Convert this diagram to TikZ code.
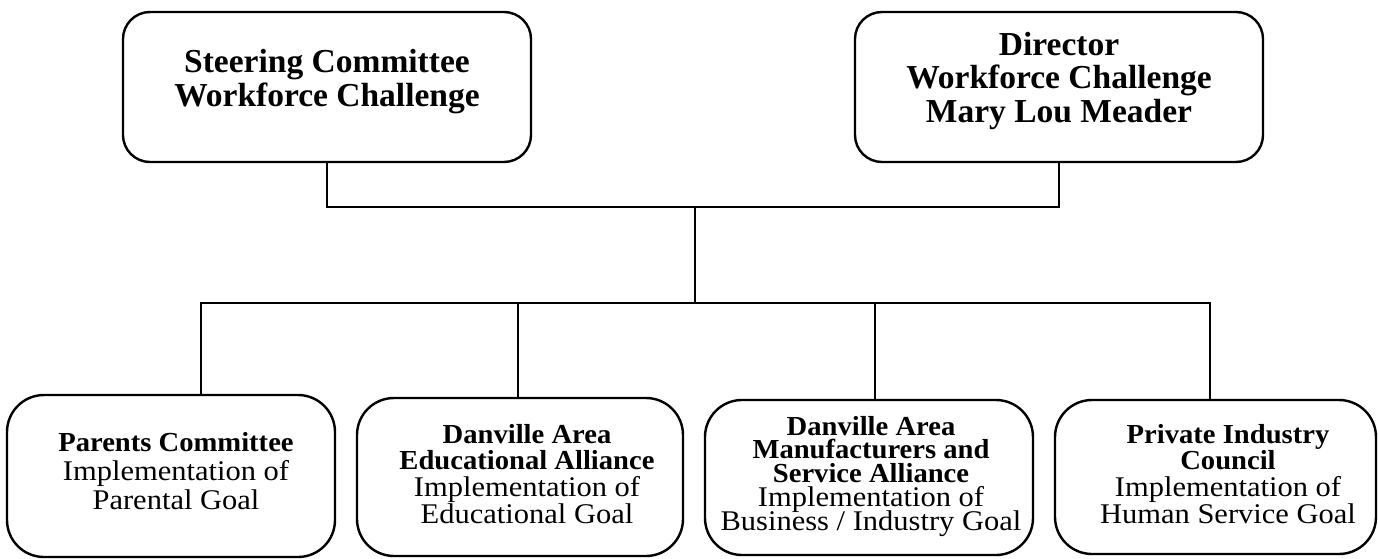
\documentclass[tikz,border=0pt]{standalone}
\usepackage{fontspec}
\setmainfont{Liberation Serif}
% slightly widened faces for the lower boxes
\newfontfamily\lowregfont{Liberation Serif}[FakeStretch=1.07]
\newfontfamily\lowboldfont{Liberation Serif}[FakeStretch=1.04]
% first-line strut so the top of each text block sits at a fixed height above its baseline
\newcommand\capstrut[1]{\rule{0pt}{#1}}
% bold heading lines inside the lower boxes
\newcommand\bl[1]{{\lowboldfont\fontsize{27.5pt}{24pt}\selectfont\bfseries #1}}
\begin{document}
\lineskiplimit=-100pt
\begin{tikzpicture}[x=1pt,y=-1pt,
  wire/.style={line width=2.7pt, line cap=rect},
  topbox/.style={draw, line width=2.4pt, rounded corners=27pt, inner sep=0pt, outer sep=0pt},
  lowbox/.style={draw, line width=2.4pt, rounded corners=37pt, inner sep=0pt, outer sep=0pt},
  toptext/.style={inner sep=0pt, align=center, anchor=north,
    font=\fontsize{33.5pt}{#1}\selectfont\bfseries},
  lowtext/.style={inner sep=0pt, align=center, anchor=north,
    font=\lowregfont\fontsize{28.5pt}{#1}\selectfont},
]
\useasboundingbox (0,0) rectangle (1378,559);

% upper tier
\node[topbox, minimum width=408pt, minimum height=150pt] (steer) at (327,87) {};
\node[topbox, minimum width=408pt, minimum height=150pt] (dir) at (1059,87) {};
\node[toptext=34pt] (steertext) at (327,46.7)
  {\capstrut{26pt}Steering Committee\\Workforce Challenge};
\node[toptext=33.5pt] (dirtext) at (1059,29)
  {\capstrut{26pt}Director\\Workforce Challenge\\Mary Lou Meader};

% lower tier
\node[lowbox, minimum width=328pt, minimum height=162pt] (b1) at (171,476) {};
\node[lowbox, minimum width=326pt, minimum height=158pt] (b2) at (520,477) {};
\node[lowbox, minimum width=328pt, minimum height=155pt] (b3) at (869,477.5) {};
\node[lowbox, minimum width=321pt, minimum height=154pt] (b4) at (1215.5,477) {};

\node[lowtext=29pt] (t1) at (176,429)
  {\capstrut{22pt}\bl{Parents Committee}\\Implementation of\\Parental Goal};
\node[lowtext=26.7pt] (t2) at (527,421)
  {\capstrut{22pt}\bl{Danville Area}\\\bl{Educational Alliance}\\Implementation of\\Educational Goal};
\node[lowtext=23.7pt] (t3) at (871,413)
  {\capstrut{22pt}\bl{Danville Area}\\\bl{Manufacturers and}\\\bl{Service Alliance}\\Implementation of\\Business / Industry Goal};
\node[lowtext=26.7pt] (t4) at (1228,421)
  {\capstrut{22pt}\bl{Private Industry}\\\bl{Council}\\Implementation of\\Human Service Goal};

% connector skeleton
\coordinate (upbar) at (0,207);
\coordinate (trunk) at (695,207);
\coordinate (lowbar) at (695,303);
\coordinate (d1) at (201,303);
\coordinate (d2) at (518,303);
\coordinate (d3) at (875,303);
\coordinate (d4) at (1210,303);

\draw[wire] (steer.south) -- (steer.south |- upbar) -- (dir.south |- upbar) -- (dir.south);
\draw[wire] (trunk) -- (lowbar);
\draw[wire] (d1) -- (d4);
\draw[wire] (d1) -- (d1 |- b1.north);
\draw[wire] (d2) -- (d2 |- b2.north);
\draw[wire] (d3) -- (d3 |- b3.north);
\draw[wire] (d4) -- (d4 |- b4.north);
\end{tikzpicture}
\end{document}
